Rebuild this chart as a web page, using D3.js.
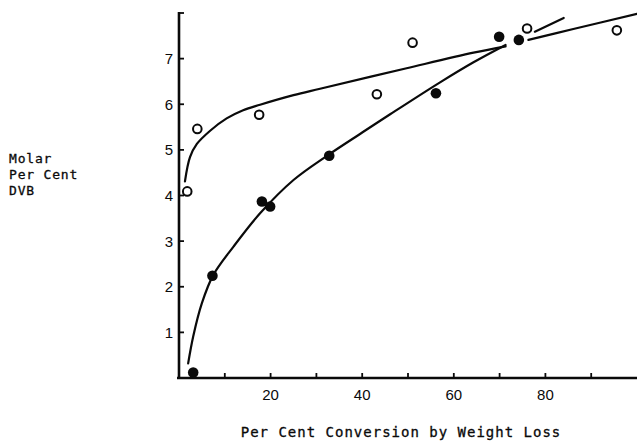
<!DOCTYPE html>
<html>
<head>
<meta charset="utf-8">
<script src="https://cdn.jsdelivr.net/npm/d3@7"></script>
<style>
  html, body { margin: 0; padding: 0; background: #fff; }
  svg { display: block; }
</style>
</head>
<body>
<svg id="chart" width="637" height="442"></svg>
<script>
// ---- data ----
const xTickValues = [10, 20, 30, 40, 50, 60, 70, 80, 90];
const xTickLabels = [20, 40, 60, 80];
const yTickValues = [1, 2, 3, 4, 5, 6, 7, 8];
const yTickLabels = [1, 2, 3, 4, 5, 6, 7];

// open circles
const openX = [1.8, 4.0, 17.5, 43.2, 51.0, 76.0, 95.6];
const openY = [4.09, 5.46, 5.77, 6.22, 7.35, 7.66, 7.62];
// filled circles
const filledX = [3.1, 7.3, 18.1, 19.9, 32.8, 56.1, 69.9, 74.2];
const filledY = [0.12, 2.24, 3.87, 3.76, 4.87, 6.24, 7.48, 7.41];

// hand-drawn fitted curves (sampled along the drawn line)
const openCurveA = [[1.3,4.31],[2.4,4.84],[3.9,5.13],[6.8,5.42],[10.4,5.69],[14.0,5.87],[17.7,5.99],[25.0,6.20],[30.8,6.34],[49.7,6.79],[64.3,7.13],[71.3,7.27]];
const openCurveB = [[76.3,7.41],[86.1,7.65],[100,7.98]];
const filledCurveA = [[2.0,0.32],[3.1,0.91],[5.0,1.64],[7.5,2.26],[11.9,2.88],[17.7,3.61],[25.0,4.34],[32.3,4.87],[40.0,5.38],[46.1,5.78],[57.0,6.48],[64.3,6.92],[71.3,7.30]];
const filledCurveB = [[77.7,7.59],[84.0,7.89]];

const xTitle = "Per Cent Conversion by Weight Loss";
const yTitleLines = ["Molar", "Per Cent", "DVB"];

// ---- drawing ----
const svg = d3.select("#chart");
const x = d3.scaleLinear().domain([0, 100]).range([179, 637]);
const y = d3.scaleLinear().domain([0, 8]).range([378, 13]);
const ink = "#0a0a0a";

// x axis
const gx = svg.append("g").attr("transform", `translate(0,${y(0)})`);
gx.append("line").attr("x1", x(0) - 2).attr("x2", x(100)).attr("y1", 0).attr("y2", 0)
  .attr("stroke", ink).attr("stroke-width", 2.6);
gx.selectAll("line.tick").data(xTickValues).enter().append("line")
  .attr("class", "tick")
  .attr("x1", d => x(d)).attr("x2", d => x(d)).attr("y1", 0).attr("y2", -5)
  .attr("stroke", ink).attr("stroke-width", 1.8);
gx.selectAll("text").data(xTickLabels).enter().append("text")
  .attr("x", d => x(d)).attr("y", 22)
  .attr("text-anchor", "middle")
  .attr("font-family", "Liberation Sans, Arial, sans-serif")
  .attr("font-size", 15).attr("fill", ink)
  .text(d => d);

// y axis
const gy = svg.append("g").attr("transform", `translate(${x(0)},0)`);
gy.append("line").attr("x1", 0).attr("x2", 0).attr("y1", y(0) + 1).attr("y2", y(8) - 1)
  .attr("stroke", ink).attr("stroke-width", 2.6);
gy.selectAll("line.tick").data(yTickValues).enter().append("line")
  .attr("class", "tick")
  .attr("x1", 0).attr("x2", 5).attr("y1", d => y(d)).attr("y2", d => y(d))
  .attr("stroke", ink).attr("stroke-width", 1.8);
gy.selectAll("text").data(yTickLabels).enter().append("text")
  .attr("x", -6).attr("y", d => y(d) + 5.5)
  .attr("text-anchor", "end")
  .attr("font-family", "Liberation Sans, Arial, sans-serif")
  .attr("font-size", 15).attr("fill", ink)
  .text(d => d);

// curves
const line = d3.line().x(d => x(d[0])).y(d => y(d[1])).curve(d3.curveCatmullRom.alpha(0.5));
[openCurveA, openCurveB, filledCurveA, filledCurveB].forEach(c => {
  svg.append("path").attr("d", line(c))
    .attr("fill", "none").attr("stroke", ink).attr("stroke-width", 2.2)
    .attr("stroke-linecap", "round");
});

// points
svg.selectAll("circle.open").data(openX).enter().append("circle")
  .attr("class", "open")
  .attr("cx", d => x(d)).attr("cy", (d, i) => y(openY[i])).attr("r", 4.3)
  .attr("fill", "#fff").attr("stroke", ink).attr("stroke-width", 2);
svg.selectAll("circle.filled").data(filledX).enter().append("circle")
  .attr("class", "filled")
  .attr("cx", d => x(d)).attr("cy", (d, i) => y(filledY[i])).attr("r", 5.3)
  .attr("fill", ink);

// titles
svg.append("text").attr("x", 401).attr("y", 437)
  .attr("text-anchor", "middle")
  .attr("font-family", "DejaVu Sans Mono, monospace")
  .attr("font-size", 14).attr("letter-spacing", 1).attr("fill", ink)
  .attr("stroke", ink).attr("stroke-width", 0.3)
  .text(xTitle);
svg.append("text")
  .attr("font-family", "DejaVu Sans Mono, monospace")
  .attr("font-size", 13).attr("letter-spacing", 0.8).attr("fill", ink)
  .attr("stroke", ink).attr("stroke-width", 0.3)
  .selectAll("tspan").data(yTitleLines).enter().append("tspan")
  .attr("x", 9).attr("y", (d, i) => 163 + i * 16)
  .text(d => d);
</script>
</body>
</html>
